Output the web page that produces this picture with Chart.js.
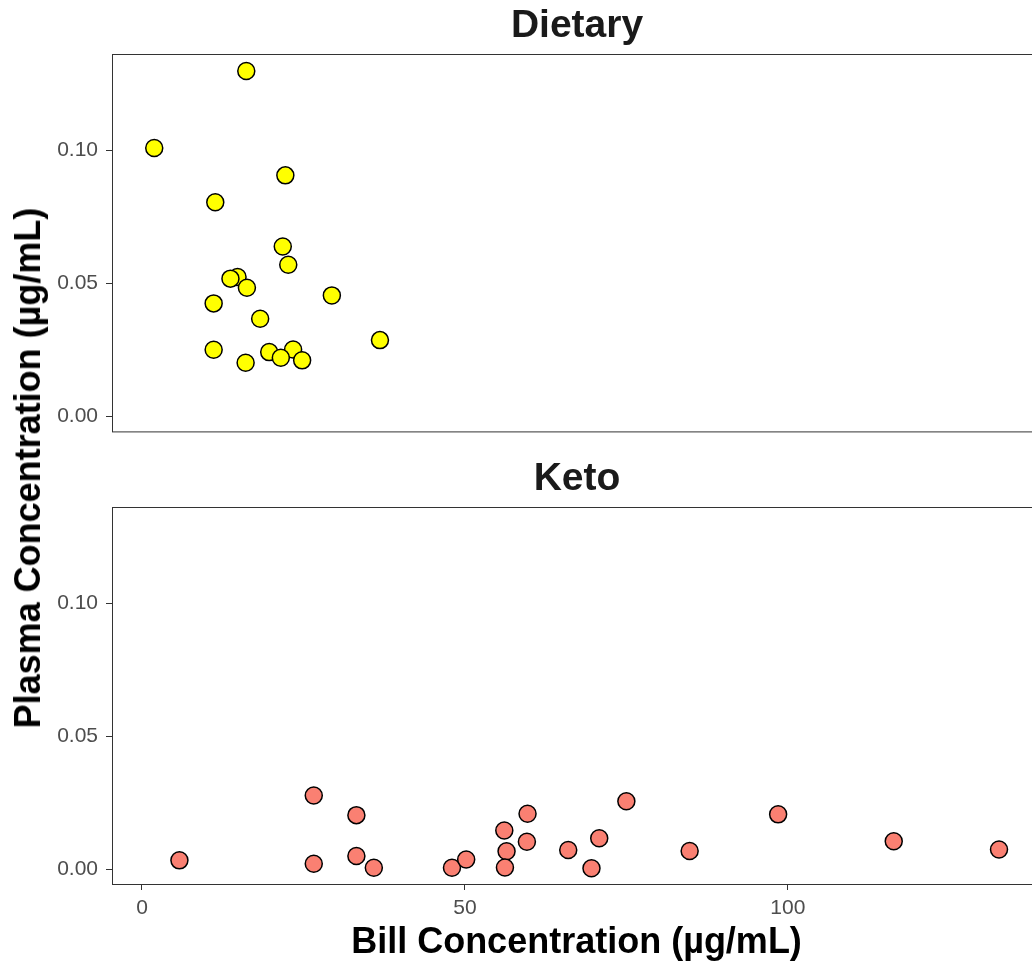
<!DOCTYPE html>
<html>
<head>
<meta charset="utf-8">
<script src="https://cdn.jsdelivr.net/npm/chart.js@4/dist/chart.umd.min.js"></script>
<style>
  html, body { margin: 0; padding: 0; background: #fff; overflow: hidden; }
  #wrap { position: relative; width: 1032px; height: 961px; overflow: hidden; }
  canvas { position: absolute; left: 0; }
  #top { top: 0; }
  #bottom { top: 440px; }
  #ytitle {
    position: absolute; left: 27.5px; top: 468px;
    transform: translate(-50%, -50%) rotate(-90deg);
    white-space: nowrap;
    font: bold 36px "Liberation Sans", Arial, sans-serif;
    color: #000;
  }
</style>
</head>
<body>
<div id="wrap">
  <canvas id="top" width="1051" height="452"></canvas>
  <canvas id="bottom" width="1051" height="521"></canvas>
  <div id="ytitle">Plasma Concentration (µg/mL)</div>
</div>
<script>
// Dietary panel
const dietaryBill = [16.15, 1.9, 22.2, 11.35, 21.8, 22.65, 14.8, 13.7, 16.25, 11.1,
                     29.4, 18.3, 36.85, 11.1, 19.7, 23.4, 21.5, 24.8, 16.05];
const dietaryPlasma = [0.1298, 0.1009, 0.0906, 0.0805, 0.0639, 0.0570, 0.0524, 0.0518, 0.0484, 0.0425,
                       0.0455, 0.0367, 0.0287, 0.0251, 0.0242, 0.0252, 0.0221, 0.0211, 0.0202];

// Keto panel
const ketoBill = [5.8, 26.6, 26.6, 33.2, 33.2, 35.9, 48.0, 50.2, 56.1, 56.45, 56.2,
                  59.7, 59.6, 66.0, 70.8, 69.6, 75.0, 84.8, 98.5, 116.4, 132.7];
const ketoPlasma = [0.0033, 0.0277, 0.0020, 0.0203, 0.0049, 0.0005, 0.0005, 0.0036, 0.0145, 0.0067, 0.0006,
                    0.0208, 0.0103, 0.0072, 0.0116, 0.0003, 0.0255, 0.0068, 0.0206, 0.0105, 0.0074];

const xTicks = [0, 50, 100];
const yTicks = [0, 0.05, 0.10];

const FONT = '"Liberation Sans", Arial, sans-serif';

// frame around the panel + strip title above it
const panelPlugin = {
  id: 'panel',
  afterDraw(chart, args, opts) {
    const { ctx, chartArea: a } = chart;
    ctx.save();
    ctx.strokeStyle = '#333';
    ctx.lineWidth = 1;
    ctx.strokeRect(a.left + 0.5, a.top + 0.5, a.right - a.left, a.bottom - a.top);
    ctx.fillStyle = '#1a1a1a';
    ctx.font = 'bold 39px ' + FONT;
    ctx.textAlign = 'center';
    ctx.textBaseline = 'alphabetic';
    ctx.fillText(opts.text, 112 + 465, a.top - 17);
    ctx.restore();
  }
};

function toPoints(xs, ys) {
  return xs.map((x, i) => ({ x: x, y: ys[i] }));
}

function makePanel(id, title, xs, ys, color, showX, pad) {
  const ctx = document.getElementById(id).getContext('2d');
  return new Chart(ctx, {
    type: 'scatter',
    data: {
      datasets: [{
        data: toPoints(xs, ys),
        backgroundColor: color,
        borderColor: '#000',
        borderWidth: 1.5,
        pointRadius: 8.5,
        pointHoverRadius: 8.5
      }]
    },
    options: {
      responsive: false,
      animation: false,
      layout: { padding: pad },
      plugins: {
        legend: { display: false },
        tooltip: { enabled: false },
        panel: { text: title }
      },
      scales: {
        x: {
          display: showX,
          min: -4.64,
          max: 139.2,
          afterBuildTicks: s => { s.ticks = xTicks.map(v => ({ value: v })); },
          afterFit: s => { s.height = showX ? 77 : 0; },
          grid: { drawOnChartArea: false, color: '#333', tickLength: 6 },
          border: { display: false },
          ticks: {
            padding: 6,
            color: '#4d4d4d',
            font: { family: FONT, size: 21 },
            callback: v => String(v)
          },
          title: {
            display: true,
            text: 'Bill Concentration (µg/mL)',
            color: '#000',
            font: { family: FONT, size: 36, weight: 'bold', lineHeight: 1 },
            padding: { top: 0, bottom: 0 }
          }
        },
        y: {
          min: -0.0056,
          max: 0.1362,
          afterBuildTicks: s => { s.ticks = yTicks.map(v => ({ value: v })); },
          afterFit: s => { s.width = 112; },
          grid: { drawOnChartArea: false, color: '#333', tickLength: 6 },
          border: { display: false },
          ticks: {
            padding: 8,
            color: '#4d4d4d',
            font: { family: FONT, size: 21 },
            callback: v => v.toFixed(2)
          }
        }
      }
    },
    plugins: [panelPlugin]
  });
}

makePanel('top', 'Dietary', dietaryBill, dietaryPlasma, '#ffff00', false,
          { top: 54, right: 0, bottom: 9, left: 0 });
makePanel('bottom', 'Keto', ketoBill, ketoPlasma, '#fa8072', true,
          { top: 67, right: 0, bottom: 0, left: 0 });
</script>
</body>
</html>
